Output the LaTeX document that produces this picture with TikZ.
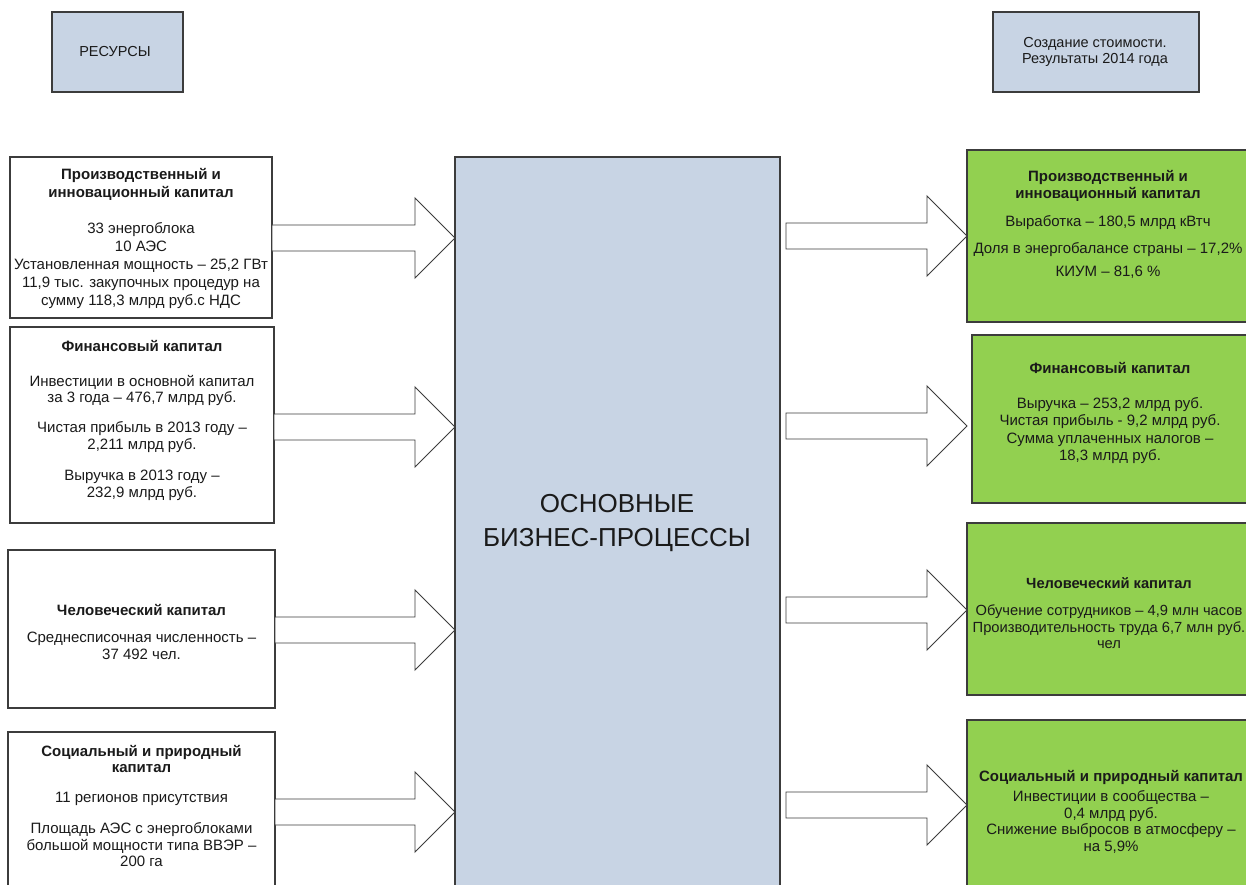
\documentclass[tikz,border=0pt]{standalone}
\usepackage{fontspec}
\setmainfont{Liberation Sans}
\usetikzlibrary{calc}
\definecolor{boxblue}{HTML}{C8D4E4}
\definecolor{boxgreen}{HTML}{92D050}
\definecolor{edge}{HTML}{3C3C3C}
\definecolor{ink}{HTML}{1A1A1A}
\tikzset{
  box/.style={draw=edge, line width=1.3pt, inner sep=0pt, outer sep=0pt},
  inbox/.style={box, fill=white},
  outbox/.style={box, fill=boxgreen},
  hdr/.style={box, fill=boxblue},
  txt/.style={align=center, inner sep=0pt, text=ink, anchor=north},
  fat/.style={draw=edge, line width=0.9pt, fill=white, line join=miter},
}
\newcommand\fatarrow[4]{%
  \draw[fat] let \p1=(#1 |- #3), \p2=(#2 |- #3) in
    (\x1+#4,\y1+13pt) -- (\x2-40pt,\y1+13pt) -- (\x2-40pt,\y1+40pt) -- (\x2,\y1)
    -- (\x2-40pt,\y1-40pt) -- (\x2-40pt,\y1-13pt) -- (\x1+#4,\y1-13pt) -- cycle;}
\begin{document}
\begin{tikzpicture}[x=1pt,y=-1pt]
\useasboundingbox (0,0) rectangle (1246,885);
\clip (0,0) rectangle (1246,885);
\fill[white] (0,0) rectangle (1246,885);

% header boxes
\node[hdr, minimum width=131pt, minimum height=80pt] (H1) at (117.5,52) {};
\node[txt, anchor=center, font=\fontsize{14.5}{16}\selectfont] (H1t) at (115,52) {РЕСУРСЫ};
\node[hdr, minimum width=206pt, minimum height=80pt] (H2) at (1096,52) {};
\node[txt, anchor=center, font=\fontsize{14.5}{16.5}\selectfont] (H2t) at (1095,52) {Создание стоимости.\\Результаты 2014 года};

% central box
\node[hdr, minimum width=325pt, minimum height=738pt] (C) at (617.5,526) {};
\node[txt, anchor=center, font=\fontsize{26}{34}\selectfont] (Ct) at (617,523) {ОСНОВНЫЕ\\БИЗНЕС-ПРОЦЕССЫ};

% left boxes
\node[inbox, minimum width=262pt, minimum height=161pt] (L1) at (141,237.5) {};
\node[inbox, minimum width=264pt, minimum height=196pt] (L2) at (142,425) {};
\node[inbox, minimum width=267pt, minimum height=158pt] (L3) at (141.5,629) {};
\node[inbox, minimum width=267pt, minimum height=168pt] (L4) at (141.5,816) {};

\node[txt, font=\fontsize{15}{18}\selectfont] (L1t) at (141,168)
 {\textbf{Производственный и}\\\textbf{инновационный капитал}\\[18pt]
  33 энергоблока\\10 АЭС\\Установленная мощность – 25,2 ГВт\\
  11,9 тыс. закупочных процедур на\\сумму 118,3 млрд руб.с НДС};
\node[txt, font=\fontsize{15}{16.5}\selectfont] (L2t) at (142,340)
 {\textbf{Финансовый капитал}\\[18.5pt]
  Инвестиции в основной капитал\\за 3 года – 476,7 млрд руб.\\[13.5pt]
  Чистая прибыль в 2013 году –\\2,211 млрд руб.\\[15pt]
  Выручка в 2013 году –\\232,9 млрд руб.};
\node[txt, font=\fontsize{15}{16.5}\selectfont] (L3t) at (141.5,604.5)
 {\textbf{Человеческий капитал}\\[10.5pt]
  Среднесписочная численность –\\37 492 чел.};
\node[txt, font=\fontsize{15}{16.5}\selectfont] (L4t) at (141.5,745)
 {\textbf{Социальный и природный}\\\textbf{капитал}\\[13.5pt]
  11 регионов присутствия\\[14.5pt]
  Площадь АЭС с энергоблоками\\большой мощности типа ВВЭР –\\200 га};

% right boxes
\node[outbox, minimum width=288pt, minimum height=172pt] (R1) at (1111,236) {};
\node[outbox, minimum width=283pt, minimum height=168pt] (R2) at (1113.5,419) {};
\node[outbox, minimum width=288pt, minimum height=172pt] (R3) at (1111,609) {};
\node[outbox, minimum width=288pt, minimum height=180pt] (R4) at (1111,810) {};

\node[txt, font=\fontsize{15}{16.5}\selectfont] (R1t) at (1108,170.5)
 {\textbf{Производственный и}\\\textbf{инновационный капитал}\\[11.5pt]
  Выработка – 180,5 млрд кВтч\\[10.5pt]
  Доля в энергобалансе страны – 17,2\%\\[6.5pt]
  КИУМ – 81,6 \%};
\node[txt, font=\fontsize{15}{17.5}\selectfont] (R2t) at (1110,362)
 {\textbf{Финансовый капитал}\\[17.5pt]
  Выручка – 253,2 млрд руб.\\Чистая прибыль - 9,2 млрд руб.\\
  Сумма уплаченных налогов –\\18,3 млрд руб.};
\node[txt, font=\fontsize{14.7}{16.5}\selectfont] (R3t) at (1109,577.5)
 {\textbf{Человеческий капитал}\\[10.5pt]
  Обучение сотрудников – 4,9 млн часов\\
  Производительность труда 6,7 млн руб.\\чел};
\node[txt, font=\fontsize{15}{16.5}\selectfont] (R4t) at (1111,770.5)
 {\textbf{Социальный и природный капитал}\\[3.5pt]
  Инвестиции в сообщества –\\0,4 млрд руб.\\
  Снижение выбросов в атмосферу –\\на 5,9\%};

% arrow levels
\coordinate (ya) at (0,238);
\coordinate (yb) at (0,427);
\coordinate (yc) at (0,630);
\coordinate (yd) at (0,812);
\coordinate (ye) at (0,236);
\coordinate (yf) at (0,426);
\coordinate (yg) at (0,610);
\coordinate (yh) at (0,805);

\fatarrow{L1.east}{C.west}{ya}{0pt}
\fatarrow{L2.east}{C.west}{yb}{0pt}
\fatarrow{L3.east}{C.west}{yc}{0pt}
\fatarrow{L4.east}{C.west}{yd}{0pt}
\fatarrow{C.east}{R1.west}{ye}{6pt}
\fatarrow{C.east}{R1.west}{yf}{6pt}
\fatarrow{C.east}{R3.west}{yg}{6pt}
\fatarrow{C.east}{R4.west}{yh}{6pt}
\end{tikzpicture}
\end{document}
